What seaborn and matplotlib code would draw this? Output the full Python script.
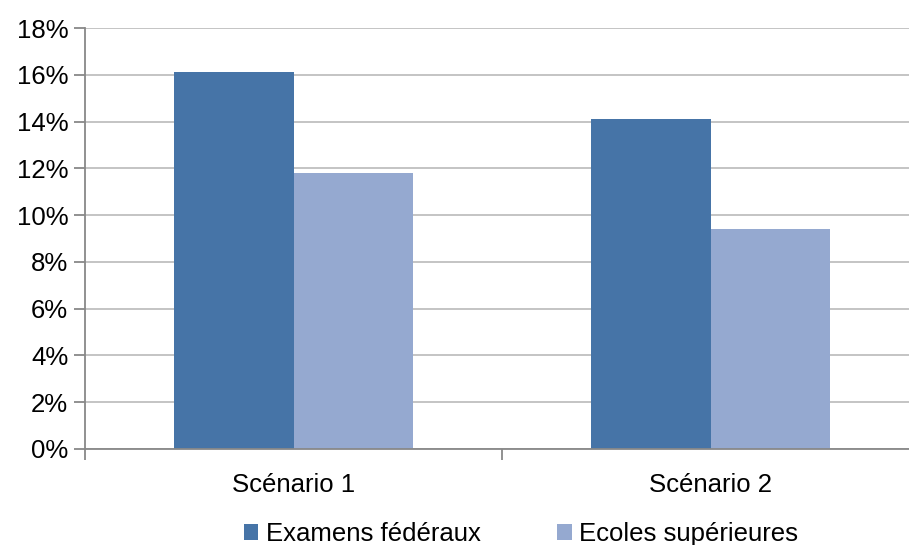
import matplotlib
matplotlib.use("Agg")
import matplotlib.pyplot as plt
import seaborn as sns
import pandas as pd
from matplotlib.patches import Patch
from matplotlib.ticker import FuncFormatter, MultipleLocator

categories = ["Scénario 1", "Scénario 2"]
series_names = ["Examens fédéraux", "Ecoles supérieures"]
examens = [16.1, 14.1]
ecoles = [11.8, 9.4]
colors = ["#4674A7", "#95A9D0"]

df = pd.DataFrame({
    "cat": categories * 2,
    "serie": [series_names[0]] * 2 + [series_names[1]] * 2,
    "val": examens + ecoles,
})

sns.set_theme(style="white")
plt.rcParams['font.family'] = ['Liberation Sans', 'DejaVu Sans']
plt.rcParams['text.color'] = 'black'

fig = plt.figure(figsize=(9.09, 5.45), dpi=100)
ax = fig.add_axes([85/909, 1 - 449/545, (919-85)/909, (449-28)/545])

sns.barplot(data=df, x="cat", y="val", hue="serie", palette=colors,
            width=0.574, saturation=1, ax=ax, legend=False, linewidth=0)

ax.set_ylim(0, 18)
ax.set_xlim(-0.5, 1.5)
ax.yaxis.set_major_locator(MultipleLocator(2))
ax.yaxis.set_major_formatter(FuncFormatter(lambda v, p: f"{v:.0f}%"))
ax.grid(axis="y", color="#BFBFBF", linewidth=1.3)
ax.set_axisbelow(True)
for s in ["top", "right"]:
    ax.spines[s].set_visible(False)
for s in ["left", "bottom"]:
    ax.spines[s].set_color("#888888")
    ax.spines[s].set_linewidth(1.3)
ax.set_xlabel("")
ax.set_ylabel("")
ax.tick_params(axis="y", left=True, length=8, width=1.3, color="#888888",
               labelsize=18.5, pad=4, labelcolor="black")
ax.tick_params(axis="x", bottom=False, labelsize=18.5, pad=11, labelcolor="black")
ax.set_xticks([0, 1])
ax.set_xticks([-0.5, 0.5, 1.5], minor=True)
ax.tick_params(axis="x", which="minor", bottom=True, length=8, width=1.3,
               color="#888888")

handles = [Patch(facecolor=c, edgecolor="none") for c in colors]
leg = fig.legend(handles, series_names, loc="center", bbox_to_anchor=(521/909, 1 - 534/545),
                 ncol=2, frameon=False, fontsize=18.5, handlelength=0.55, handleheight=0.55,
                 handletextpad=0.3, columnspacing=3.0)
for t in leg.get_texts():
    t.set_color("black")

fig.savefig("out.png", dpi=100)
